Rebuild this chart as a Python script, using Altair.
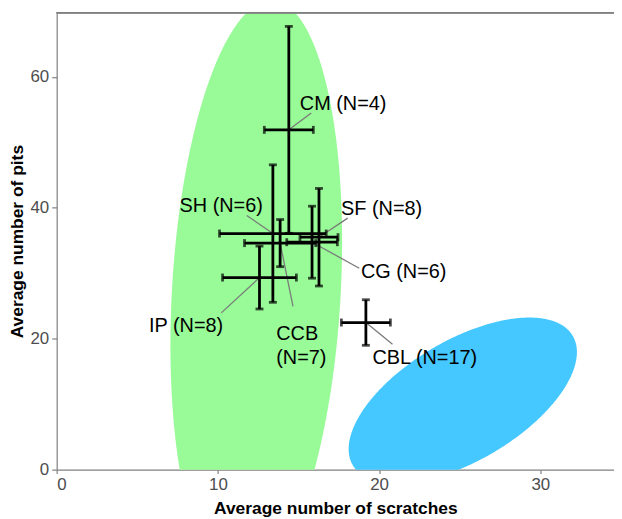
import numpy as np
import pandas as pd
import altair as alt

# ---- data ----
labels = ["CM (N=4)", "SH (N=6)", "CCB\n(N=7)", "CG (N=6)", "SF (N=8)", "IP (N=8)", "CBL (N=17)"]
mean_scratches = [14.40, 13.41, 13.86, 15.84, 16.27, 12.58, 19.18]
err_scratches = [1.52, 3.31, 2.21, 1.57, 1.18, 2.29, 1.52]
mean_pits = [51.90, 36.06, 34.60, 34.74, 35.50, 29.34, 22.47]
err_pits = [15.80, 10.50, 3.60, 5.50, 7.45, 4.80, 3.48]
label_x = [15.08, 7.62, 13.62, 18.87, 17.64, 5.73, 19.59]
label_y = [55.88, 40.20, 20.77, 30.24, 39.85, 21.90, 16.97]
segment_x = [15.79, 11.79, 14.66, 18.77, 18.05, 10.21, 20.83]
segment_y = [54.48, 38.83, 24.94, 30.76, 38.42, 23.94, 19.14]

# ellipses: centre, horizontal half-chord through centre, offset of topmost point
ellipse_cx = [12.38, 25.19]
ellipse_cy = [26.97, 10.55]
ellipse_half_width = [5.24, 5.75]
ellipse_top_dx = [0.945, 4.13]
ellipse_top_dy = [44.7, 12.68]
ellipse_colors = ["#98FB98", "#45C8FF"]

X_MAX = 34.57
Y_MAX = 69.8
x_ticks = [0, 10, 20, 30]
y_ticks = [0, 20, 40, 60]

df = pd.DataFrame({
    "label": labels,
    "sx": mean_scratches,
    "sxlo": [m - e for m, e in zip(mean_scratches, err_scratches)],
    "sxhi": [m + e for m, e in zip(mean_scratches, err_scratches)],
    "py": mean_pits,
    "pylo": [m - e for m, e in zip(mean_pits, err_pits)],
    "pyhi": [m + e for m, e in zip(mean_pits, err_pits)],
    "lx": label_x,
    "ly": label_y,
    "segx": segment_x,
    "segy": segment_y,
})

xs = alt.Scale(domain=[0, X_MAX], nice=False, zero=False)
ys = alt.Scale(domain=[0, Y_MAX], nice=False, zero=False)
x_axis = alt.Axis(values=x_ticks, grid=False, tickSize=4, labelPadding=3,
                  titlePadding=7, format="d")
y_axis = alt.Axis(values=y_ticks, grid=False, tickSize=5, labelPadding=3,
                  titlePadding=3, format="d")
XT = "Average number of scratches"
YT = "Average number of pits"


def X(f):
    return alt.X(f, type="quantitative", scale=xs, axis=x_axis, title=XT)


def Y(f):
    return alt.Y(f, type="quantitative", scale=ys, axis=y_axis, title=YT)


layers = []
s = np.linspace(0, np.pi, 241)
for cx, cy, w, dx, dy, col in zip(ellipse_cx, ellipse_cy, ellipse_half_width,
                                  ellipse_top_dx, ellipse_top_dy, ellipse_colors):
    rx = np.hypot(w, dx)
    t0 = np.arctan2(dx, w)
    mid = cy + dy * np.sin(t0) * np.cos(s)
    half = dy * np.cos(t0) * np.sin(s)
    e = pd.DataFrame({
        "ex": cx + rx * np.cos(s),
        "ey1": mid - half,
        "ey2": mid + half,
    })
    layers.append(
        alt.Chart(e).mark_area(clip=True, color=col)
        .encode(x=X("ex"), y=Y("ey1"), y2="ey2")
    )

base = alt.Chart(df)
top_border = base.mark_rule(color="#808080", strokeWidth=1.2).encode(y=alt.YDatum(Y_MAX))

vbars = base.mark_rule(color="black", strokeWidth=2.8).encode(x=X("sx"), y=Y("pylo"), y2="pyhi")
hbars = base.mark_rule(color="black", strokeWidth=2.8).encode(y=Y("py"), x=X("sxlo"), x2="sxhi")
cap_lo = base.mark_tick(color="black", orient="horizontal", size=8, thickness=2.8).encode(x=X("sx"), y=Y("pylo"))
cap_hi = base.mark_tick(color="black", orient="horizontal", size=8, thickness=2.8).encode(x=X("sx"), y=Y("pyhi"))
cap_l = base.mark_tick(color="black", orient="vertical", size=8, thickness=2.8).encode(x=X("sxlo"), y=Y("py"))
cap_r = base.mark_tick(color="black", orient="vertical", size=8, thickness=2.8).encode(x=X("sxhi"), y=Y("py"))
segs = base.mark_rule(color="#7a7a7a", strokeWidth=1.3).encode(x=X("segx"), y=Y("segy"), x2="sx", y2="py")
texts = base.mark_text(align="left", baseline="middle", font="Liberation Sans",
                       fontSize=20, color="black", lineBreak="\n", lineHeight=25).encode(
    x=X("lx"), y=Y("ly"), text="label:N")

chart = alt.layer(*layers, top_border, segs, vbars, hbars, cap_lo, cap_hi, cap_l, cap_r, texts).properties(
    width=561, height=460,
    padding={"left": 49, "top": 3, "right": 0, "bottom": 47},
    autosize=alt.AutoSizeParams(type="none"),
).configure_view(stroke=None).configure_axis(
    domainColor="#808080", tickColor="#808080", domainWidth=1.2, tickWidth=1.2,
    labelColor="#4d4d4d", labelFont="Liberation Sans", labelFontSize=17,
    titleFont="Liberation Sans", titleFontSize=17.5, titleFontWeight="bold", titleColor="black",
)

chart.save("out.html", embed_options={"renderer": "svg", "actions": False})
